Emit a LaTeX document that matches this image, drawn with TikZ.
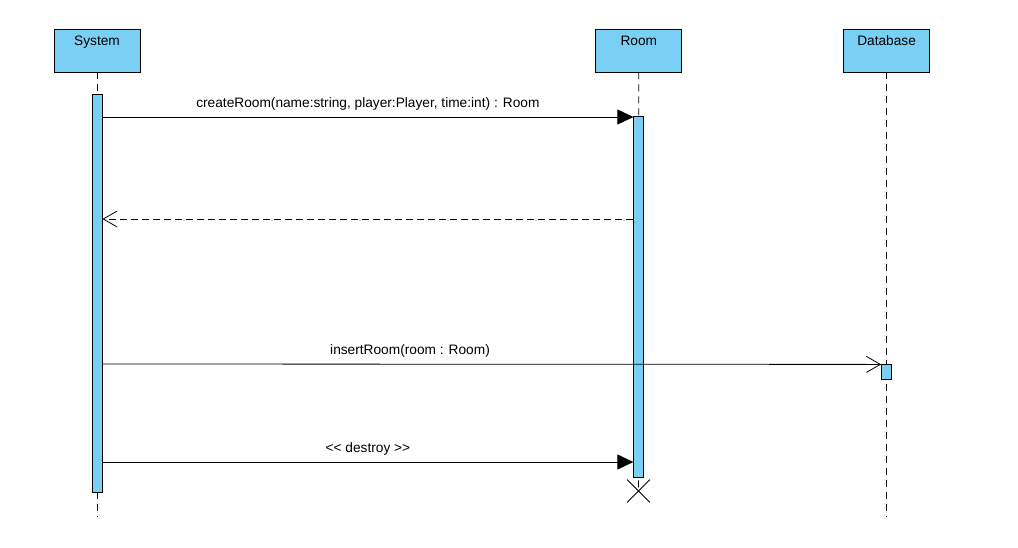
\documentclass[tikz,border=0pt]{standalone}
\usepackage{fontspec}
\setmainfont{Liberation Sans}
\usepackage{xcolor}
\usetikzlibrary{arrows.meta, positioning, shapes.misc}
\definecolor{lifeblue}{RGB}{122,207,245}

\begin{document}
\begin{tikzpicture}[x=1pt, y=-1pt, line width=0.8pt,
        font=\fontsize{13.7}{16}\selectfont,
        head/.style={draw, fill=lifeblue, minimum width=86pt, minimum height=43pt,
            inner xsep=2pt, inner ysep=3pt, text height=13pt, text depth=24pt},
        act/.style={draw, fill=lifeblue, minimum width=10pt, inner sep=0pt},
        lifeline/.style={dash pattern=on 7pt off 5pt},
        call/.style={-{Triangle[length=16pt, width=15pt]}},
        reply/.style={dash pattern=on 7pt off 4pt, -{Straight Barb[length=14pt, width=16pt]}},
        async/.style={-{Straight Barb[length=14pt, width=16pt]}}]
        \useasboundingbox (0,0) rectangle (1018,547);
        \node[head] (sys) at (97,50.5) {System};
        \node[head, right=455pt of sys] (room) {Room};
        \node[head, right=161pt of room] (db) {Database};
%
        \coordinate (bottom) at (0,517);
        \coordinate (m1) at (0,117);
        \coordinate (m2) at (0,219);
        \coordinate (m3) at (0,364);
        \coordinate (m4) at (0,462);
        \node[cross out, draw, minimum size=22pt, inner sep=0pt] (roomend) at (638.5,491) {};
%
        \draw[lifeline] (sys) -- (sys |- bottom);
        \draw[lifeline] (room) -- (roomend.center);
        \draw[lifeline] (db) -- (db |- bottom);
%
        \node[act, minimum height=398pt, below=22pt of sys] (sysact) {};
        \node[act, minimum height=361pt, below=44pt of room] (roomact) {};
        \node[act, minimum height=15pt, below=292pt of db] (dbact) {};
%
        \draw[call] (sysact.east |- m1) -- node[above=3pt]{createRoom(name:string, player:Player, time:int) : Room} (roomact.west |- m1);
        \draw[reply] (roomact.west |- m2) -- (sysact.east |- m2);
        \draw[async] (sysact.east |- m3) -- node[above=3pt, pos=0.395]{insertRoom(room : Room)} (dbact.north west);
        \draw[call] (sysact.east |- m4) -- node[above=3pt]{<{}< destroy >{}>} (roomact.west |- m4);
\end{tikzpicture}
\end{document}
